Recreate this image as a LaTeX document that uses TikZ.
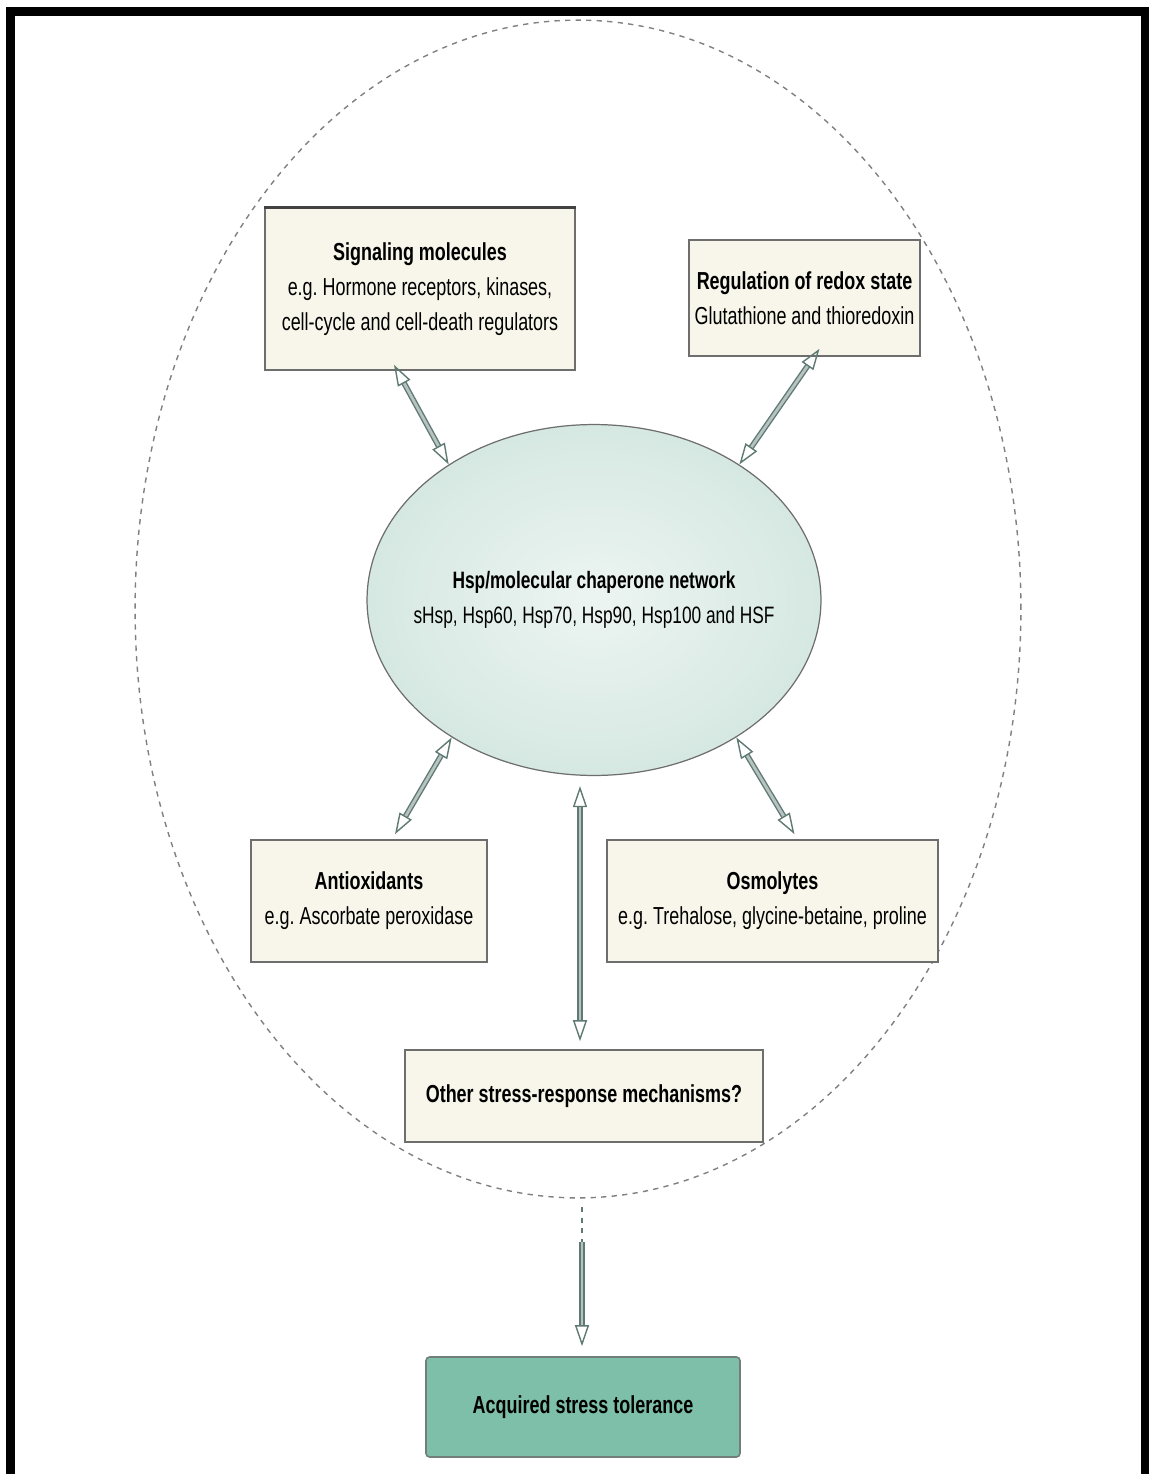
\documentclass[tikz,border=0pt]{standalone}
\usepackage{fontspec}
\setmainfont{Liberation Sans}[FakeStretch=0.73]
\usepackage{tikz}
\usetikzlibrary{positioning,calc,shapes.geometric,arrows.meta}
\definecolor{cream}{HTML}{F8F6EA}
\definecolor{boxline}{HTML}{6E6E6E}
\definecolor{ellfill}{HTML}{D6E8E2}
\definecolor{arrowc}{HTML}{5F7A73}
\definecolor{tolfill}{HTML}{7DBFA8}
\tikzset{>=stealth}
\tikzset{
  box/.style={draw=boxline, fill=cream, line width=0.9pt, align=center,
    font=\fontsize{14}{20}\selectfont},
  dbl/.style={draw=arrowc, line width=0.8pt, double=arrowc!45!white,
    double distance=1.6pt},
  dblarr/.style={dbl,
    {Triangle[open,length=12pt,width=8pt]}-{Triangle[open,length=12pt,width=8pt]}}
}

\begin{document}
\begin{tikzpicture}[x=0.02cm,y=-0.02cm]
\useasboundingbox (0,0) rectangle (1149,1474);
%\draw[help lines] (0,0) grid[step=100] (1149,1474);
\draw[line width=5.1pt] (10.5,1474) -- (10.5,11.5) -- (1145,11.5) -- (1145,1474);
% dashed outer ring
\draw[gray, dashed, line width=0.8pt] (578,609) ellipse [x radius=8.86cm, y radius=11.78cm];
\coordinate (ringbot) at (582,1207);
% centre
\node[ellipse, draw=boxline, line width=0.7pt, inner color=ellfill!45!white, outer color=ellfill,
  minimum width=9.08cm, minimum height=7.02cm,
  label={[align=center, font=\fontsize{13.5}{20}\selectfont]center:{\textbf{Hsp/molecular chaperone network}\\ sHsp, Hsp60, Hsp70, Hsp90, Hsp100 and HSF}}]
  (hsp) at (594,600) {};
% boxes
\node[box, minimum width=6.2cm, minimum height=3.24cm] (sig) at (420,289)
  {\textbf{Signaling molecules}\\ e.g.\ Hormone receptors, kinases,\\ cell-cycle and cell-death regulators};
\draw[boxline!60!black, line width=1.6pt] (sig.north west) -- (sig.north east);
\node[box, minimum width=4.3cm, minimum height=2.32cm] (redox) at (804.5,298)
  {\textbf{Regulation of redox state}\\ Glutathione and thioredoxin};
\node[box, minimum width=4.72cm, minimum height=2.44cm] (anti) at (369,901)
  {\textbf{Antioxidants}\\ e.g.\ Ascorbate peroxidase};
\node[box, minimum width=6.62cm, minimum height=2.44cm] (osmo) at (772.5,901)
  {\textbf{Osmolytes}\\ e.g.\ Trehalose, glycine-betaine, proline};
\node[box, minimum width=7.16cm, minimum height=1.84cm] (other) at (584,1096)
  {\textbf{Other stress-response mechanisms?}};
\node[box, draw=boxline!80!tolfill, fill=tolfill, rounded corners=2pt,
  minimum width=6.28cm, minimum height=2cm] (tol) at (583,1407)
  {\textbf{Acquired stress tolerance}};
% arrows
\draw[dblarr] ($(sig.south)+(-26,-6)$) -- (hsp.137);
\draw[dblarr] ($(redox.south)+(15,-8)$) -- (hsp.43);
\draw[dblarr] (hsp.224) -- ($(anti.north)+(26,-5)$);
\draw[dblarr] (hsp.316) -- ($(osmo.north)+(22,-5)$);
\draw[dblarr] ($(hsp.south)+(-14,10)$) -- ($(other.north)+(-4,-8)$);
\coordinate (dashend) at ($(ringbot)+(0,35)$);
\draw[arrowc, dashed, line width=1.2pt] (ringbot) -- (dashend);
\draw[dbl, -{Triangle[open,length=12pt,width=8pt]}] (dashend) -- ($(tol.north)+(-1,-10)$);
\end{tikzpicture}
\end{document}
